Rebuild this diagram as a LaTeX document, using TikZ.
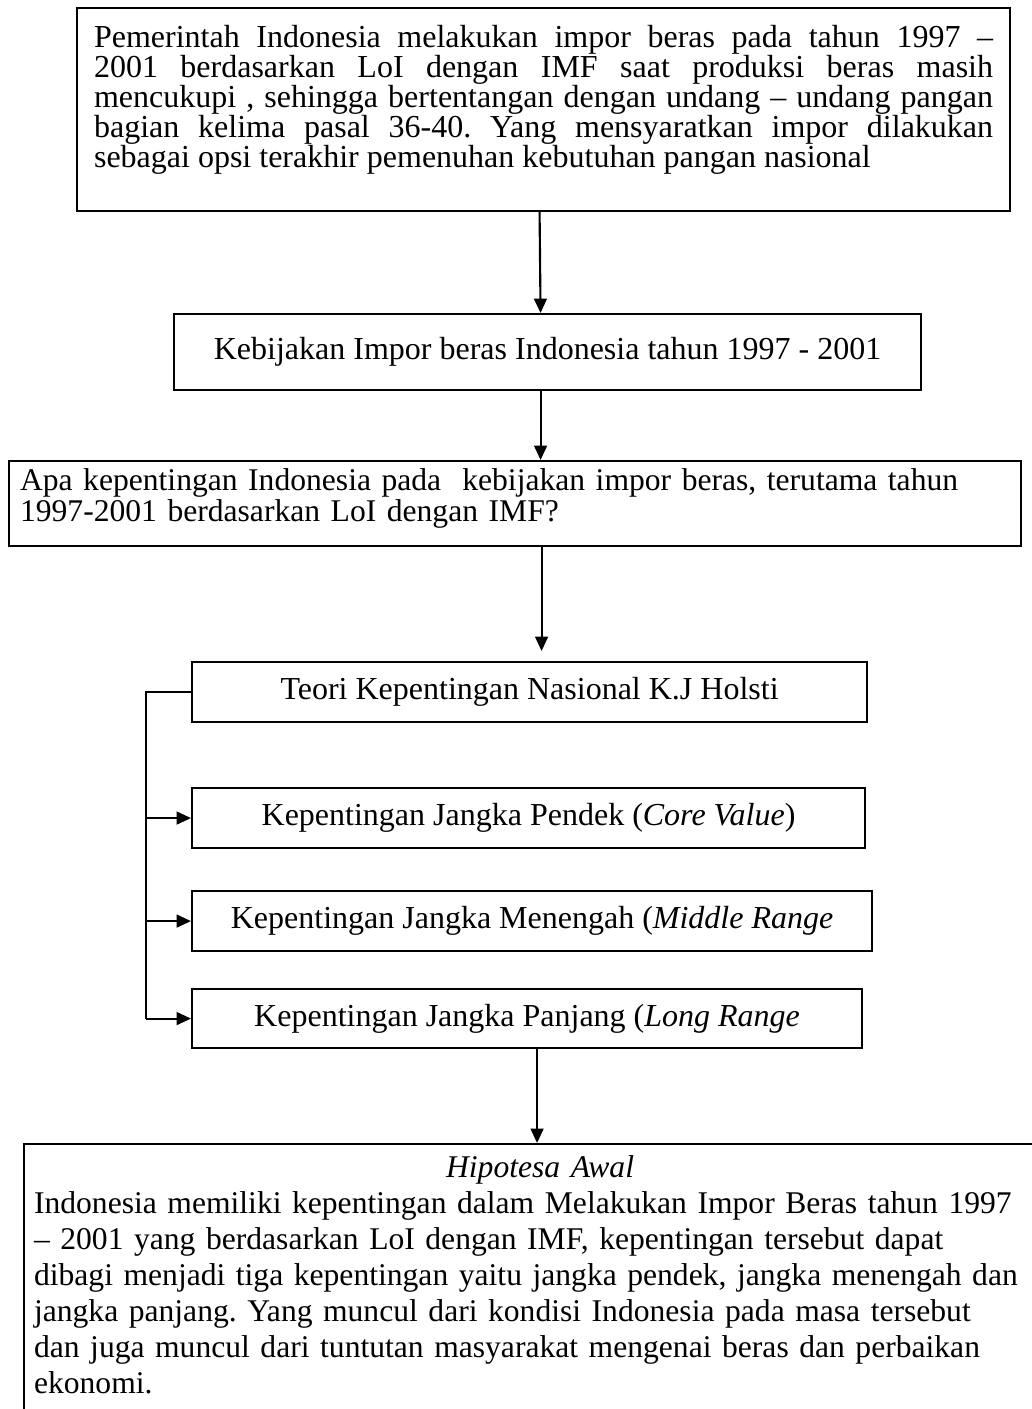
\documentclass[tikz,border=0pt]{standalone}
\usepackage{fontspec}
\setmainfont{Liberation Serif}
\usetikzlibrary{arrows.meta,calc,positioning}
\newdimen\pxu
\pxu=0.375pt
\tolerance=9999
\hyphenpenalty=10000
\frenchspacing
\tikzset{
    kotak/.style={draw, line width=0.8pt, inner sep=0pt, anchor=north west},
    isi/.style={font=\fontsize{12pt}{11.25pt}\selectfont\frenchspacing},
    isilebar/.style={font=\fontsize{11.85pt}{13.5pt}\selectfont\frenchspacing},
    panah/.style={->, line width=0.8pt}
}
\begin{document}
\begin{tikzpicture}[>={Triangle[length=5.4pt,width=4.8pt]}, x=0.375pt, y=-0.375pt]
            \useasboundingbox (0,0) rectangle (1031,1409);
            \node[kotak, isi, inner xsep=17\pxu, text width=899\pxu, align=justify] (pem) at (76,7)
                {\rule{0pt}{39\pxu}Pemerintah Indonesia melakukan impor beras pada tahun 1997 --\linebreak
                2001 berdasarkan LoI dengan IMF saat produksi beras masih\linebreak
                mencukupi , sehingga bertentangan dengan undang -- undang pangan\linebreak
                bagian kelima pasal 36-40. Yang mensyaratkan impor dilakukan\linebreak
                sebagai opsi terakhir pemenuhan kebutuhan pangan nasional\rule[-44\pxu]{0pt}{44\pxu}};
            \node[kotak, isi, minimum width=747\pxu, minimum height=76\pxu] (keb) at (173,313)
                {Kebijakan Impor beras Indonesia tahun 1997 - 2001};
            \node[kotak, isi, inner xsep=11\pxu, text width=990\pxu, align=left,
                font=\fontsize{11.85pt}{11.625pt}\selectfont] (apa) at (8,460)
                {\rule{0pt}{29\pxu}Apa kepentingan Indonesia pada~ kebijakan impor beras, terutama tahun\\
                1997-2001 berdasarkan LoI dengan IMF?\rule[-25\pxu]{0pt}{25\pxu}};
            \node[kotak, isi, minimum width=675\pxu, minimum height=60\pxu] (teori) at (191,661)
                {Teori Kepentingan Nasional K.J Holsti};
            \node[kotak, isi, minimum width=673\pxu, minimum height=60\pxu] (pendek) at (191,787)
                {Kepentingan Jangka Pendek (\textit{Core Value})};
            \node[kotak, isi, minimum width=680\pxu, minimum height=60\pxu] (menengah) at (191,890)
                {Kepentingan Jangka Menengah (\textit{Middle Range}};
            \node[kotak, isi, minimum width=670\pxu, minimum height=59\pxu] (panjang) at (191,988)
                {Kepentingan Jangka Panjang (\textit{Long Range}};
            \node[kotak, isilebar, inner xsep=10\pxu, text width=1012\pxu] (hipo) at (23,1143)
                {\rule{0pt}{33\pxu}{\centering\textit{Hipotesa Awal}\par}
                Indonesia memiliki kepentingan dalam Melakukan Impor Beras tahun 1997\\
                -- 2001 yang berdasarkan LoI dengan IMF, kepentingan tersebut dapat\\
                dibagi menjadi tiga kepentingan yaitu jangka pendek, jangka menengah dan\\
                jangka panjang. Yang muncul dari kondisi Indonesia pada masa tersebut\\
                dan juga muncul dari tuntutan masyarakat mengenai beras dan perbaikan\\
                ekonomi.\rule[-110\pxu]{0pt}{110\pxu}};

            \draw[panah] ([xshift=-4\pxu]pem.south) -- ([xshift=-7\pxu]keb.north);
            \draw[panah] ([xshift=-7\pxu]keb.south) -- ([xshift=-7\pxu]keb.south |- apa.north);
            \draw[panah] ([xshift=12\pxu]teori.north |- apa.south) -- ([xshift=12\pxu,yshift=10\pxu]teori.north);
            \draw[line width=0.8pt] (teori.west) -- ++(-45,0) coordinate (brk) -- (brk |- panjang.west);
            \foreach \n in {pendek,menengah,panjang}
                {
                \draw[panah] (brk |- \n.west) -- (\n.west);
                }
            \draw[panah] ([xshift=10\pxu]panjang.south) -- ([xshift=10\pxu]panjang.south |- hipo.north);
\end{tikzpicture}
\end{document}
